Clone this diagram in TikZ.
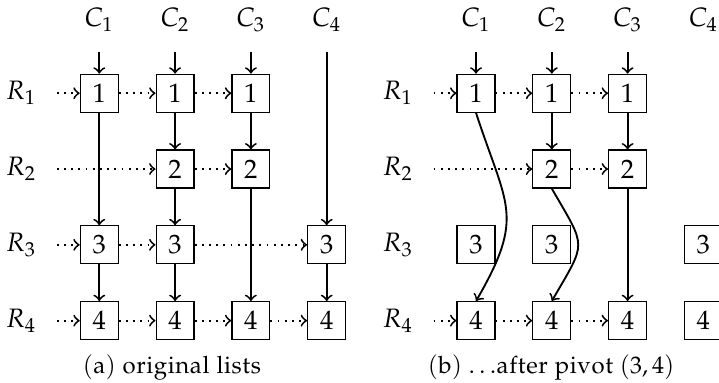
\documentclass[tikz,border=0pt]{standalone}
\usepackage[OT1]{fontenc}
\usepackage{mathpazo}
\newcommand\subcapfont{\fontfamily{zplm}\fontsize{9}{11}\selectfont\spaceskip=2.4pt plus 1pt minus 0.5pt\relax}
\begin{document}
\begin{tikzpicture}[
  font=\fontfamily{zplm}\selectfont,
  cell/.style={draw, minimum size=0.5cm, inner sep=0pt, line width=0.45pt},
  link/.style={->, line width=0.7pt},
  rowlink/.style={->, line width=0.7pt, dotted},
]
\useasboundingbox (0,0) rectangle (9.486,-5.04);

% two copies of the header, row labels and cells: (a) and (b)
\foreach \p/\dx in {a/0, b/4.97} {
  \foreach \c in {1,...,4} {
    \node (\p C\c) at ({1.31+\c-1+\dx}, -0.26) {$C_{\c}$};
    \coordinate (\p T\c) at ({1.31+\c-1+\dx}, -0.69);
  }
  \foreach \r in {1,...,4} {
    \node (\p R\r) at ({0.28+\dx}, {-1.23-\r+1}) {$R_{\r}$};
    \coordinate (\p S\r) at ({0.75+\dx}, {-1.23-\r+1});
  }
  \foreach \r/\c in {1/1,1/2,1/3,2/2,2/3,3/1,3/2,3/4,4/1,4/2,4/3,4/4} {
    \node[cell] (\p\r\c) at ({1.31+\c-1+\dx}, {-1.23-\r+1}) {$\r$};
  }
}

% (a) column lists
\draw[link] (aT1) -- (a11);
\draw[link] (a11) -- (a31);
\draw[link] (a31) -- (a41);
\draw[link] (aT2) -- (a12);
\draw[link] (a12) -- (a22);
\draw[link] (a22) -- (a32);
\draw[link] (a32) -- (a42);
\draw[link] (aT3) -- (a13);
\draw[link] (a13) -- (a23);
\draw[link] (a23) -- (a43);
\draw[link] (aT4) -- (a34);
\draw[link] (a34) -- (a44);
% (a) row lists
\draw[rowlink] (aS1) -- (a11);
\draw[rowlink] (a11) -- (a12);
\draw[rowlink] (a12) -- (a13);
\draw[rowlink] (aS2) -- (a22);
\draw[rowlink] (a22) -- (a23);
\draw[rowlink] (aS3) -- (a31);
\draw[rowlink] (a31) -- (a32);
\draw[rowlink] (a32) -- (a34);
\draw[rowlink] (aS4) -- (a41);
\draw[rowlink] (a41) -- (a42);
\draw[rowlink] (a42) -- (a43);
\draw[rowlink] (a43) -- (a44);

% (b) column lists after the pivot
\draw[link] (bT1) -- (b11);
\draw[link] (b11.south) to[out=-72, in=60, looseness=1.35] (b41.north);
\draw[link] (bT2) -- (b12);
\draw[link] (b12) -- (b22);
\draw[link] (b22.south) to[out=-60, in=60, looseness=1.6] (b42.north);
\draw[link] (bT3) -- (b13);
\draw[link] (b13) -- (b23);
\draw[link] (b23) -- (b43);
% (b) row lists
\draw[rowlink] (bS1) -- (b11);
\draw[rowlink] (b11) -- (b12);
\draw[rowlink] (b12) -- (b13);
\draw[rowlink] (bS2) -- (b22);
\draw[rowlink] (b22) -- (b23);
\draw[rowlink] (bS4) -- (b41);
\draw[rowlink] (b41) -- (b42);
\draw[rowlink] (b42) -- (b43);

% captions
\node (capa) at (2.27, -4.85) {\subcapfont (a) original lists};
\node (capb) at (7.27, -4.85) {\subcapfont (b) $\ldots$after pivot $(3,4)$};
\end{tikzpicture}
\end{document}
